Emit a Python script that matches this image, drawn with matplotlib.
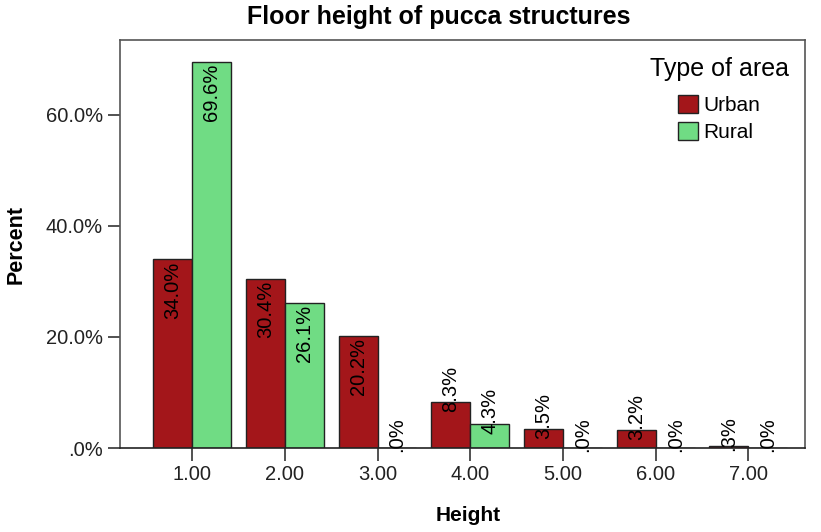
import matplotlib
matplotlib.use('Agg')
import matplotlib.pyplot as plt
import numpy as np

# chart data
heights = ['1.00', '2.00', '3.00', '4.00', '5.00', '6.00', '7.00']
urban = [34.0, 30.4, 20.2, 8.3, 3.5, 3.2, 0.3]
rural = [69.6, 26.1, 0.0, 4.3, 0.0, 0.0, 0.0]
y_ticks = [0, 20, 40, 60]

plt.rcParams['font.family'] = ['Liberation Sans', 'DejaVu Sans']

fig = plt.figure(figsize=(8.21, 5.32), dpi=100)
ax = fig.add_axes([120/821, 84/532, 685/821, 408/532])

x = np.arange(1, len(heights) + 1)
w = 0.42
ax.bar(x - w/2, urban, w, color='#a3161a', edgecolor='#222222', linewidth=1, label='Urban')
ax.bar(x + w/2, rural, w, color='#70dc84', edgecolor='#222222', linewidth=1, label='Rural')

ax.set_xlim(0.223, 7.61)
ax.set_ylim(0, 73.5)


def fmt(v):
    s = '%.1f%%' % v
    if s.startswith('0.'):
        s = s[1:]
    return s


px = 73.5 / 408  # data units per pixel
for xs, vals in ((x - w/2, urban), (x + w/2, rural)):
    for xi, v in zip(xs, vals):
        lab = fmt(v)
        if v > 12:
            ax.text(xi, v - 2*px, lab, rotation=90, ha='center', va='top', fontsize=14.5)
        else:
            ax.text(xi, v + 13*px, lab, rotation=90, ha='center', va='center', fontsize=14.5)

ax.set_yticks(y_ticks)
ax.set_yticklabels([fmt(t) for t in y_ticks], fontsize=14.5, color='#222222')
ax.set_xticks(x)
ax.set_xticklabels(heights, fontsize=14.5, color='#222222')
ax.tick_params(axis='both', length=9, width=1.2, color='#333333')
ax.tick_params(axis='x', pad=3)

for s in ax.spines.values():
    s.set_color('#555555')
    s.set_linewidth(1.2)
ax.spines['bottom'].set_color('#222222')

ax.set_ylabel('Percent', fontsize=15.5, fontweight='bold')
ax.yaxis.set_label_coords(-0.137, 0.5)
ax.set_xlabel('Height', fontsize=15, fontweight='bold')
ax.xaxis.set_label_coords(0.509, -0.142)

fig.text(439/821, 1 - 17/532, 'Floor height of pucca structures', ha='center', va='center',
         fontsize=18, fontweight='bold')

leg = ax.legend(title='Type of area', frameon=False, loc='upper center',
                bbox_to_anchor=(719/821, 1 - 47/532), bbox_transform=fig.transFigure,
                fontsize=15, title_fontsize=18, borderpad=0,
                handlelength=0.95, handleheight=0.95, handletextpad=0.25,
                labelspacing=0.3, alignment='center')
leg._legend_box.sep = 10

fig.savefig('out.png', dpi=100, facecolor='white')
